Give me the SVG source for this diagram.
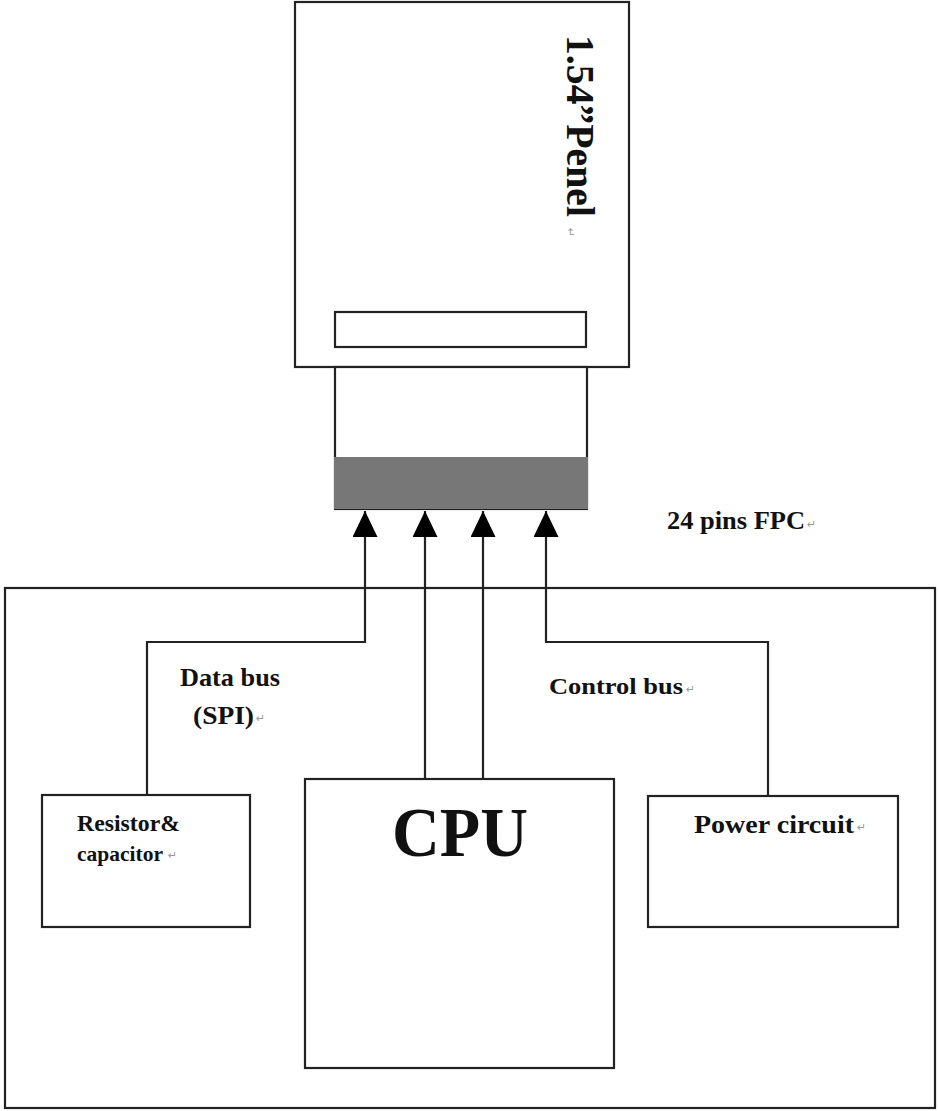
<svg xmlns="http://www.w3.org/2000/svg" width="938" height="1111" viewBox="0 0 938 1111">
<style>
.box{fill:#fff;stroke:#222;stroke-width:2.2}
.ln{fill:none;stroke:#222;stroke-width:2.2}
.t{font-family:"Liberation Serif","Times New Roman",serif;font-weight:bold;fill:#111}
.pm{font-family:"DejaVu Sans",sans-serif;fill:#999;font-size:11px;font-weight:normal}
</style>
<defs>
<marker id="ah" markerWidth="25" markerHeight="26" refX="12.5" refY="0" orient="0" markerUnits="userSpaceOnUse" viewBox="0 0 25 26">
<path d="M12.5 0 L25 26 L0 26 Z" fill="#000"/>
</marker>
</defs>
<rect width="938" height="1111" fill="#fff"/>
<g id="board"><rect class="box" x="5" y="588" width="930" height="520"/></g>
<g id="panel">
<rect class="box" x="295" y="2" width="334" height="365"/>
<rect class="box" x="335" y="312" width="251" height="35"/>
<text class="t" font-size="41" transform="translate(567,35) rotate(90)" textLength="182" lengthAdjust="spacingAndGlyphs">1.54”Penel</text>
<text class="pm" transform="translate(567,228) rotate(90)">↵</text>
</g>
<g id="fpc">
<rect class="box" x="335" y="367" width="252" height="142"/>
<rect x="334" y="457" width="254" height="52" fill="#777"/>
<text class="t" x="667" y="529" font-size="25" textLength="138" lengthAdjust="spacingAndGlyphs">24 pins FPC</text>
<text class="pm" x="807" y="528">↵</text>
</g>
<g id="resistor">
<rect class="box" x="42" y="795" width="208" height="132"/>
<text class="t" x="77" y="831" font-size="24" textLength="103" lengthAdjust="spacingAndGlyphs">Resistor&amp;</text>
<text class="t" x="77" y="861" font-size="22" textLength="86" lengthAdjust="spacingAndGlyphs">capacitor</text>
<text class="pm" x="168" y="859">↵</text>
</g>
<g id="cpu">
<rect class="box" x="305" y="779" width="309" height="289"/>
<text class="t" x="392" y="856" font-size="70" textLength="136" lengthAdjust="spacingAndGlyphs">CPU</text>
</g>
<g id="power">
<rect class="box" x="648" y="796" width="250" height="131"/>
<text class="t" x="694" y="833" font-size="25" textLength="160" lengthAdjust="spacingAndGlyphs">Power circuit</text>
<text class="pm" x="857" y="831">↵</text>
</g>
<g id="labels">
<text class="t" x="180" y="686" font-size="25" textLength="100" lengthAdjust="spacingAndGlyphs">Data bus</text>
<text class="t" x="193" y="724" font-size="25" textLength="61" lengthAdjust="spacingAndGlyphs">(SPI)</text>
<text class="pm" x="256" y="722">↵</text>
<text class="t" x="549" y="694" font-size="24" textLength="134" lengthAdjust="spacingAndGlyphs">Control bus</text>
<text class="pm" x="686" y="693">↵</text>
</g>
<g id="connectors">
<path class="ln" d="M147 795 V642 H365 V511" marker-end="url(#ah)"/>
<path class="ln" d="M425 779 V511" marker-end="url(#ah)"/>
<path class="ln" d="M483 779 V511" marker-end="url(#ah)"/>
<path class="ln" d="M768 796 V642 H546 V511" marker-end="url(#ah)"/>
</g>
</svg>
